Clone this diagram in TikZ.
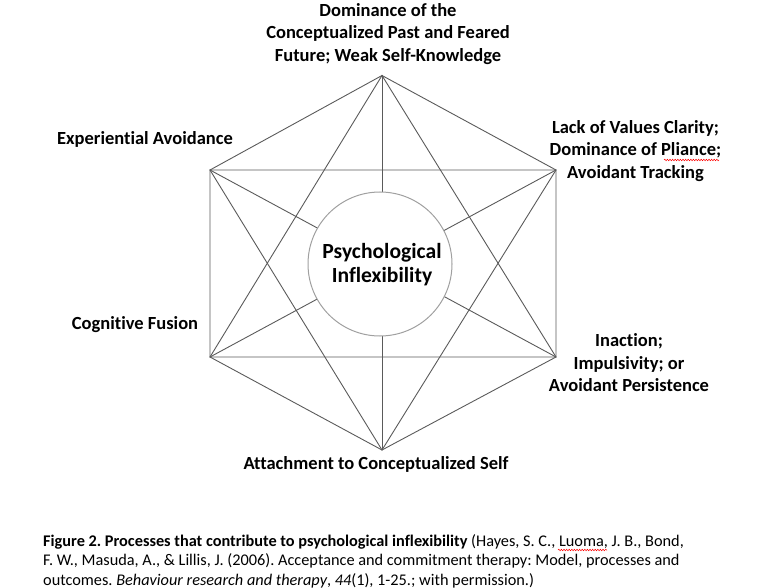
\documentclass[tikz,border=0pt]{standalone}
\usepackage{fontspec}
\setmainfont{Carlito}[Ligatures={NoCommon}]
\frenchspacing
\usetikzlibrary{decorations.pathmorphing}
\definecolor{edgegray}{HTML}{5A5A5A}
\definecolor{ringgray}{HTML}{A0A0A0}
\tikzset{
  edge/.style={draw=edgegray, line width=0.9pt},
  ring/.style={circle, draw=ringgray, line width=1pt, fill=white, minimum size=144pt, inner sep=0pt},
  lbl/.style={align=center, font=\fontsize{18.5}{22.5}\selectfont\bfseries\frenchspacing, inner sep=0pt},
  centerlbl/.style={align=center, font=\fontsize{21.6}{24}\selectfont\bfseries, inner sep=0pt},
  caption/.style={align=left, anchor=north west, font=\fontsize{16.3}{19.5}\selectfont\frenchspacing, inner sep=0pt},
  spell/.style={draw=red, line width=0.5pt, decorate, decoration={snake, amplitude=0.8pt, segment length=2.6pt}}
}
\begin{document}
\begin{tikzpicture}[x=1pt,y=-1pt]
\useasboundingbox (0,0) rectangle (768,588);
% hexagon vertices
\coordinate (T)  at (382,75.5);
\coordinate (UR) at (556,170);
\coordinate (LR) at (556,357);
\coordinate (B)  at (382,450);
\coordinate (LL) at (210,357);
\coordinate (UL) at (210,170);
% hexagon edges
\draw[edge] (T) -- (UR) -- (LR) -- (B) -- (LL) -- (UL) -- cycle;
% two triangles
\draw[edge] (T) -- (LR) -- (LL) -- cycle;
\draw[edge] (UR) -- (B) -- (UL) -- cycle;
% long diagonals (hidden by the circle in the middle)
\draw[edge] (T) -- (B);
\draw[edge] (UR) -- (LL);
\draw[edge] (LR) -- (UL);
% centre circle
\node[ring] (C) at (380,264) {};
\node[centerlbl] (CL) at (382,265) {Psychological\\Inflexibility};
% labels
\node[lbl] (Ltop) at (388,34) {Dominance of the\\Conceptualized Past and Feared\\Future; Weak Self-Knowledge};
\node[lbl] (Lexp) at (145,139.5) {Experiential Avoidance};
\node[lbl] (Lval) at (635.5,151) {Lack of Values Clarity;\\Dominance of Pliance;\\Avoidant Tracking};
\node[lbl] (Lfus) at (135,324.5) {Cognitive Fusion};
\node[lbl] (Lact) at (629,363) {Inaction;\\Impulsivity; or\\Avoidant Persistence};
\node[lbl] (Latt) at (376,464.5) {Attachment to Conceptualized Self};
% spell-check underline under "Pliance"
\coordinate (pa) at (664,160);
\coordinate (pb) at (719,160);
\draw[spell] (pa) -- (pb);
% caption
\node[caption] (cap) at (43,534) {\textbf{Figure 2. Processes that contribute to psychological inflexibility} (Hayes, S. C., Luoma, J. B., Bond,\\
F. W., Masuda, A., \& Lillis, J. (2006). Acceptance and commitment therapy: Model, processes and\\
outcomes. \textit{Behaviour research and therapy}, \textit{44}(1), 1-25.; with permission.)};
% spell-check underline under "Luoma"
\coordinate (la) at (558,550);
\coordinate (lb) at (607,550);
\draw[spell] (la) -- (lb);
\end{tikzpicture}
\end{document}
